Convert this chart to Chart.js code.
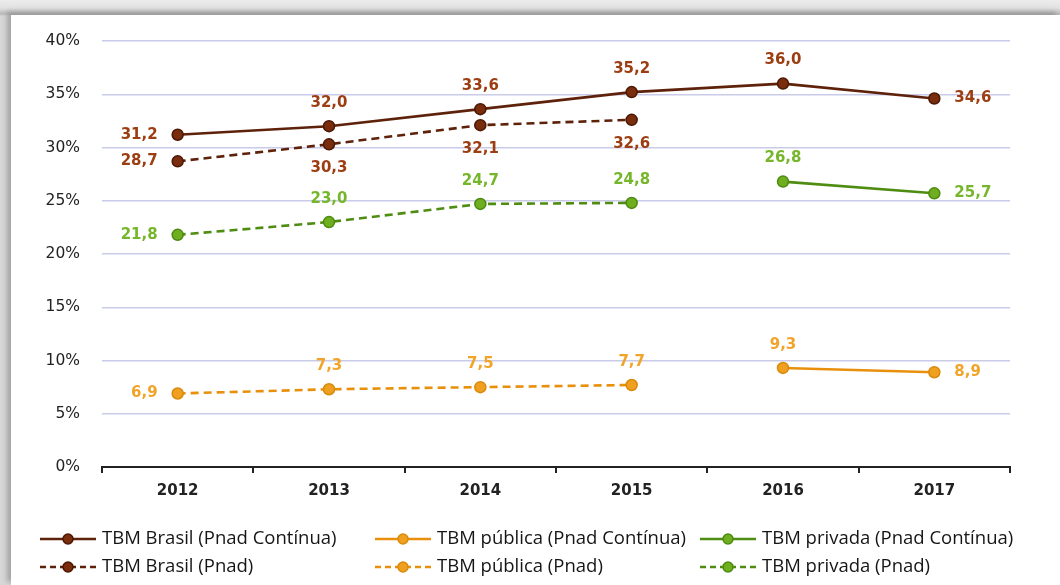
<!DOCTYPE html>
<html>
<head>
<meta charset="utf-8">
<script src="https://cdn.jsdelivr.net/npm/chart.js@4.4.1/dist/chart.umd.min.js"></script>
<style>
  html, body { margin: 0; padding: 0; width: 1060px; height: 585px; overflow: hidden; }
  body { background: linear-gradient(to bottom, #ececec 0px, #e2e2e2 8px, #b9b9b9 14px, #d8d8d8 16px); position: relative; }
  #panel { position: absolute; left: 11px; top: 15px; right: 0; bottom: 0; background: #ffffff;
           box-shadow: -4px -3px 5px rgba(120,120,120,0.55); }
  #wrap { position: absolute; left: 0; top: 0; width: 1060px; height: 585px; }
</style>
</head>
<body>
<div id="panel"></div>
<div id="wrap"><canvas id="c" width="1060" height="585"></canvas></div>
<script>
// ---- Data ----
const categories = ['2012', '2013', '2014', '2015', '2016', '2017'];
const brasilPC    = [31.2, 32.0, 33.6, 35.2, 36.0, 34.6];
const publicaPC   = [null, null, null, null, 9.3, 8.9];
const privadaPC   = [null, null, null, null, 26.8, 25.7];
const brasilPnad  = [28.7, 30.3, 32.1, 32.6, null, null];
const publicaPnad = [6.9, 7.3, 7.5, 7.7, null, null];
const privadaPnad = [21.8, 23.0, 24.7, 24.8, null, null];
const yTicks = [0, 5, 10, 15, 20, 25, 30, 35, 40];
const seriesNames = [
  'TBM Brasil (Pnad Contínua)', 'TBM pública (Pnad Contínua)', 'TBM privada (Pnad Contínua)',
  'TBM Brasil (Pnad)', 'TBM pública (Pnad)', 'TBM privada (Pnad)'
];

// ---- Styles ----
const BROWN = { line: '#5e210a', point: '#7a2d0c', border: '#4a1804', label: '#9c3d12' };
const ORANGE = { line: '#e8900c', point: '#f0a020', border: '#d98a0a', label: '#f2a42a' };
const GREEN = { line: '#4f8c12', point: '#6fae1f', border: '#4c8a10', label: '#76b62a' };
const DASH = [8, 5];

// label placement per dataset (styling, not data)
const labelPos = [
  ['left', 'above', 'above', 'above', 'above', 'right'],
  [null, null, null, null, 'above', 'right'],
  [null, null, null, null, 'above', 'right'],
  ['left', 'below', 'below', 'below', null, null],
  ['left', 'above', 'above', 'above', null, null],
  ['left', 'above', 'above', 'above', null, null]
];

function ds(label, data, col, dashed) {
  return {
    label, data,
    borderColor: col.line, backgroundColor: col.point,
    pointBackgroundColor: col.point, pointBorderColor: col.border,
    pointRadius: 5.5, pointBorderWidth: 1.5, pointHoverRadius: 5.5,
    borderWidth: 2.6, borderDash: dashed ? DASH : [],
    tension: 0, spanGaps: false, _col: col
  };
}

const datasets = [
  ds(seriesNames[0], brasilPC, BROWN, false),
  ds(seriesNames[1], publicaPC, ORANGE, false),
  ds(seriesNames[2], privadaPC, GREEN, false),
  ds(seriesNames[3], brasilPnad, BROWN, true),
  ds(seriesNames[4], publicaPnad, ORANGE, true),
  ds(seriesNames[5], privadaPnad, GREEN, true)
];

const fmt = v => v.toFixed(1).replace('.', ',');

const labelPlugin = {
  id: 'pointLabels',
  afterDatasetsDraw(chart) {
    const ctx = chart.ctx;
    ctx.save();
    ctx.font = 'bold 15px "DejaVu Sans"';
    chart.data.datasets.forEach((d, i) => {
      const meta = chart.getDatasetMeta(i);
      meta.data.forEach((pt, j) => {
        const v = d.data[j];
        const pos = labelPos[i][j];
        if (v == null || !pos) return;
        ctx.fillStyle = d._col.label;
        let x = pt.x, y = pt.y;
        ctx.textBaseline = 'middle';
        if (pos === 'left') { ctx.textAlign = 'right'; x -= 20; }
        else if (pos === 'right') { ctx.textAlign = 'left'; x += 20; }
        else if (pos === 'above') { ctx.textAlign = 'center'; y -= 23; }
        else { ctx.textAlign = 'center'; y += 24; }
        ctx.fillText(fmt(v), x, y);
      });
    });
    ctx.restore();
  }
};

const legendPlugin = {
  id: 'gridLegend',
  afterDraw(chart) {
    const ctx = chart.ctx;
    const cols = [40, 375, 700];
    const rows = [539, 567];
    ctx.save();
    chart.data.datasets.forEach((d, i) => {
      const x0 = cols[i % 3], y = rows[Math.floor(i / 3)];
      const dashed = d.borderDash && d.borderDash.length;
      ctx.strokeStyle = d._col.line;
      ctx.lineWidth = 2.6;
      ctx.setLineDash(dashed ? [6, 4] : []);
      ctx.beginPath(); ctx.moveTo(x0, y); ctx.lineTo(x0 + 56, y); ctx.stroke();
      ctx.setLineDash([]);
      ctx.fillStyle = d._col.point; ctx.strokeStyle = d._col.border; ctx.lineWidth = 1.5;
      ctx.beginPath(); ctx.arc(x0 + 28, y, 5, 0, Math.PI * 2); ctx.fill(); ctx.stroke();
      ctx.fillStyle = '#151515';
      ctx.font = '18.5px "Open Sans"';
      ctx.textAlign = 'left'; ctx.textBaseline = 'middle';
      ctx.fillText(d.label, x0 + 62, y);
    });
    ctx.restore();
  }
};

new Chart(document.getElementById('c'), {
  type: 'line',
  data: { labels: categories, datasets },
  plugins: [labelPlugin, legendPlugin],
  options: {
    responsive: false,
    animation: false,
    events: [],
    layout: { padding: { left: 0, right: 50, top: 41, bottom: 70 } },
    plugins: { legend: { display: false }, tooltip: { enabled: false } },
    scales: {
      x: {
        offset: true,
        afterFit(scale) { scale.height = 48; },
        grid: { offset: true, drawOnChartArea: false, drawTicks: true, tickLength: 6, color: '#222', lineWidth: 2 },
        border: { display: true, color: '#222', width: 2 },
        ticks: { color: '#222', font: { family: 'DejaVu Sans', size: 15, weight: 'bold' }, padding: 9 }
      },
      y: {
        min: 0, max: 40,
        afterFit(scale) { scale.width = 102; },
        afterBuildTicks(scale) { scale.ticks = yTicks.map(v => ({ value: v })); },
        grid: { color: '#c9cbe8', lineWidth: 1.5, drawTicks: false },
        border: { display: false },
        ticks: { color: '#222', font: { family: 'DejaVu Sans', size: 15.5 }, padding: 22,
                 callback: v => v + '%' }
      }
    }
  }
});
</script>
</body>
</html>
